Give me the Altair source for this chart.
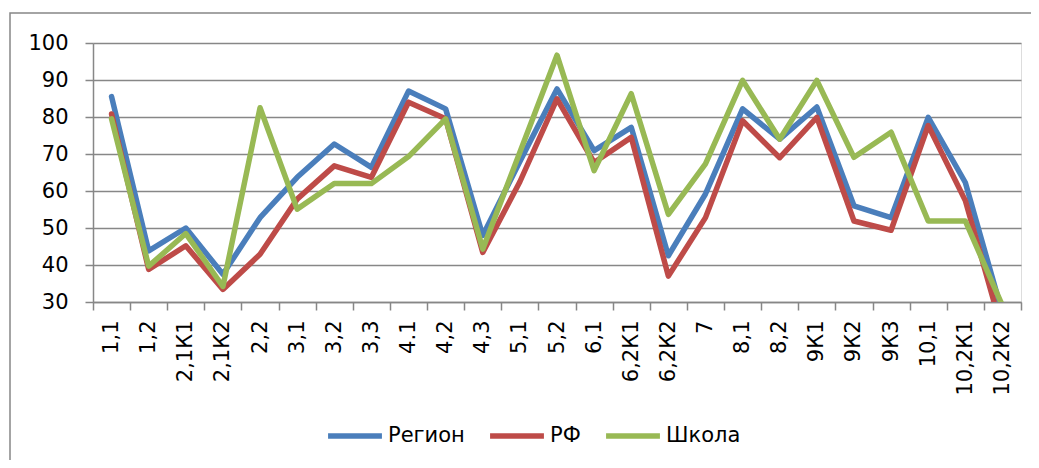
import altair as alt
import pandas as pd

cats = ["1,1", "1,2", "2,1К1", "2,1К2", "2,2", "3,1", "3,2", "3,3", "4.1", "4,2",
        "4,3", "5,1", "5,2", "6,1", "6,2К1", "6,2К2", "7", "8,1", "8,2", "9К1",
        "9К2", "9К3", "10,1", "10,2К1", "10,2К2"]
series = ["Регион", "РФ", "Школа"]
colors = ["#4A7EBB", "#BE4B48", "#98B954"]
region = [85.5, 43.8, 50, 37.5, 52.8, 63.7, 72.7, 66.4, 87, 82.2, 48, 68, 87.6, 70.9,
          77.2, 42.5, 59.2, 82.2, 74, 82.7, 56, 52.8, 79.9, 62.3, 27]
rf = [80.8, 38.8, 45.2, 33.4, 42.9, 57.8, 66.8, 63.7, 84, 79.5, 43.4, 62.5, 84.9, 67.7,
      74.5, 37, 52.8, 79, 69, 79.9, 51.9, 49.4, 77.7, 57.4, 22]
school = [79.5, 39.7, 48.5, 34.2, 82.5, 55.1, 62, 62, 69.3, 79.5, 44.3, 70.5, 96.7, 65.5,
          86.3, 53.7, 67.3, 89.9, 74, 89.9, 69.1, 75.9, 51.9, 51.9, 29]
y_ticks = [30, 40, 50, 60, 70, 80, 90, 100]

rows = []
for s, vals in zip(series, [region, rf, school]):
    for c, v in zip(cats, vals):
        rows.append({"cat": c, "series": s, "value": v})
df = pd.DataFrame(rows)

FONT = "DejaVu Sans"
GRAY = "#878787"

x_enc = alt.X(
    "cat:N", sort=cats,
    scale=alt.Scale(type="band", paddingInner=0, paddingOuter=0),
    bandPosition=0.5,
    axis=alt.Axis(title=None, labelAngle=270, tickBand="extent", grid=False,
                  ticks=True, tickSize=8, tickColor=GRAY, tickWidth=1.5,
                  domainColor=GRAY, domainWidth=1.5, labelPadding=10,
                  labelFont=FONT, labelFontSize=21, labelColor="black"),
)
y_enc = alt.Y(
    "value:Q",
    scale=alt.Scale(domain=[30, 100], nice=False, zero=False),
    axis=alt.Axis(title=None, values=y_ticks, grid=True, gridColor=GRAY, gridWidth=1.5,
                  tickSize=8, tickColor=GRAY, tickWidth=1.5, domainColor=GRAY,
                  domainWidth=1.5, labelPadding=17, labelFont=FONT, labelFontSize=21,
                  labelColor="black"),
)
color_enc = alt.Color(
    "series:N",
    scale=alt.Scale(domain=series, range=colors),
    sort=series,
    legend=alt.Legend(orient="none", legendX=232, legendY=363, direction="horizontal",
                      title=None, symbolType="stroke", symbolSize=2900,
                      symbolStrokeWidth=5.5, labelFontSize=21, labelFont=FONT,
                      labelColor="black", columnPadding=14, labelOffset=3, padding=0),
)

base = alt.Chart(df).mark_line(strokeWidth=5.5, strokeJoin="round", strokeCap="round",
                                clip=True).encode(x=x_enc, y=y_enc, color=color_enc)
layers = [base.transform_filter(alt.datum.series == s) for s in series]

border = alt.Chart(pd.DataFrame({"a": [0]})).mark_rect(
    fill="transparent", stroke=GRAY, strokeWidth=1.5
).encode(x=alt.value(-83), y=alt.value(-30), x2=alt.value(2000), y2=alt.value(1000))

chart = alt.layer(border, *layers).properties(
    width=928, height=259,
    autosize=alt.AutoSizeParams(type="none"),
    padding={"left": 85, "top": 35, "right": 10, "bottom": 158},
).configure_view(stroke=None).configure(background="white")

chart.save("out.html", embed_options={"renderer": "svg", "actions": False})
